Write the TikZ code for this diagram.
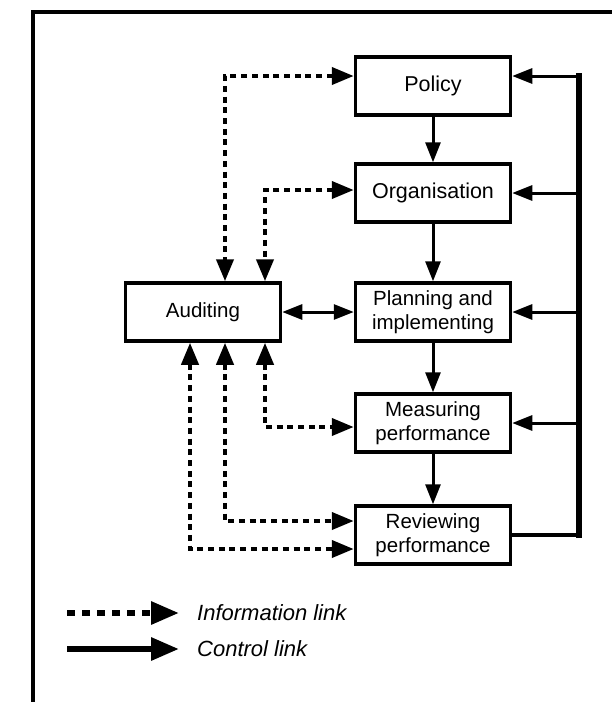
\documentclass[tikz,border=0pt]{standalone}
\usepackage{fontspec}
\setmainfont{Liberation Sans}
\usetikzlibrary{arrows.meta}
\begin{document}
\begin{tikzpicture}[x=1pt,y=-1pt,
  box/.style={draw, line width=3.5pt, minimum width=155pt, minimum height=58pt,
    inner sep=0pt, align=center, font=\fontsize{20.5}{24}\selectfont},
  bigtext/.style={font=\fontsize{21.5}{24}\selectfont},
  ctrl/.style={line width=3pt, -{Triangle[length=20pt,width=15pt]}},
  ctrlboth/.style={line width=3pt, {Triangle[length=20pt,width=15pt]}-{Triangle[length=20pt,width=15pt]}},
  info/.style={line width=4pt, dash pattern=on 6pt off 4.7pt,
    {Triangle[length=22pt,width=17pt]}-{Triangle[length=22pt,width=17pt]}},
  bus/.style={line width=5.5pt, line cap=rect},
  legtext/.style={anchor=west, font=\fontsize{22}{26}\selectfont\itshape, inner sep=0pt},
  ]
\useasboundingbox (0,0) rectangle (611,702);
% frame
\draw[line width=4.5pt] (33,710) -- (33,12) -- (620,12);
% boxes
\node[box, bigtext] (pol) at (433,86) {Policy};
\node[box, bigtext] (org) at (433,193) {Organisation};
\node[box] (plan) at (433,312) {Planning and\\implementing};
\node[box] (meas) at (433,423) {Measuring\\performance};
\node[box] (rev) at (433,535) {Reviewing\\performance};
\node[box] (aud) at (203,312) {Auditing};
% vertical control arrows
\draw[ctrl] (pol.south) -- (org.north);
\draw[ctrl] (org.south) -- (plan.north);
\draw[ctrl] (plan.south) -- (meas.north);
\draw[ctrl] (meas.south) -- (rev.north);
% auditing <-> planning
\draw[ctrlboth] (aud.east) -- (plan.west);
% control bus
\coordinate (bt) at (579,76);
\coordinate (bb) at (579,535);
\draw[line width=3.5pt] (rev.east) -- (bb);
\draw[bus] (bb) -- (bt);
\draw[ctrl] (bt) -- ([yshift=10pt]pol.east);
\draw[ctrl] (bt |- org.east) -- (org.east);
\draw[ctrl] (bt |- plan.east) -- (plan.east);
\draw[ctrl] (bt |- meas.east) -- (meas.east);
% information links
\coordinate (xa) at (225,0);
\coordinate (xb) at (265,0);
\coordinate (xc) at (190,0);
\draw[info] ([yshift=10pt]pol.west) -| (aud.north -| xa);
\draw[info] ([yshift=3pt]org.west) -| (aud.north -| xb);
\draw[info] (aud.south -| xb) |- ([yshift=-4pt]meas.west);
\draw[info] (aud.south -| xa) |- ([yshift=14pt]rev.west);
\draw[info] (aud.south -| xc) |- ([yshift=-14pt]rev.west);
% legend
\coordinate (l1s) at (67,613);
\coordinate (l1e) at (179,613);
\coordinate (l2s) at (67,649);
\coordinate (l2e) at (179,649);
\draw[line width=6pt, dash pattern=on 8pt off 7pt, -{Triangle[length=28pt,width=22pt]}] (l1s) -- (l1e);
\draw[line width=6pt, -{Triangle[length=28pt,width=22pt]}] (l2s) -- (l2e);
\node[legtext] (t1) at (197,613) {Information link};
\node[legtext] (t2) at (197,649) {Control link};
\end{tikzpicture}
\end{document}
